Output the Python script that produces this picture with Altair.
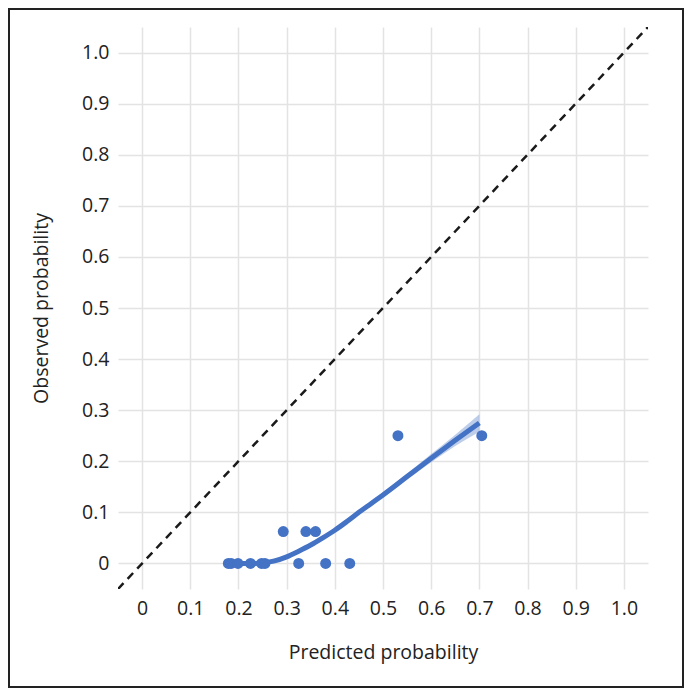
import altair as alt
import pandas as pd

# observed points
pred_x = [0.179, 0.185, 0.199, 0.225, 0.248, 0.255, 0.325, 0.381, 0.431,
          0.293, 0.340, 0.360, 0.531, 0.705]
obs_y = [0, 0, 0, 0, 0, 0, 0, 0, 0,
         0.0625, 0.0625, 0.0625, 0.25, 0.25]

# smoothed calibration curve
curve_x = [0.179, 0.20, 0.225, 0.25, 0.275, 0.30, 0.325, 0.35, 0.375, 0.40,
           0.425, 0.45, 0.475, 0.50, 0.55, 0.60, 0.65, 0.70]
curve_y = [0.000, 0.000, 0.000, 0.001, 0.005, 0.013, 0.024, 0.036, 0.050, 0.065,
           0.082, 0.100, 0.117, 0.134, 0.170, 0.206, 0.241, 0.275]
curve_se = [0.004, 0.004, 0.004, 0.004, 0.004, 0.004, 0.004, 0.004, 0.004, 0.004,
            0.004, 0.004, 0.005, 0.005, 0.006, 0.008, 0.011, 0.017]

# reference diagonal
diag = [-0.05, 1.05]

ticks = [0, 0.1, 0.2, 0.3, 0.4, 0.5, 0.6, 0.7, 0.8, 0.9, 1.0]

BLUE = "#4472C4"
FONT = "Open Sans"

pts = pd.DataFrame({"x": pred_x, "y": obs_y})
cur = pd.DataFrame({
    "x": curve_x,
    "y": curve_y,
    "lo": [a - b for a, b in zip(curve_y, curve_se)],
    "hi": [a + b for a, b in zip(curve_y, curve_se)],
})
dg = pd.DataFrame({"x": diag, "y": diag})

label_expr = "datum.value == 0 ? '0' : format(datum.value, '.1f')"

xs = alt.Scale(domain=[-0.05, 1.05], nice=False, zero=False)
ys = alt.Scale(domain=[-0.05, 1.05], nice=False, zero=False)

xax = alt.Axis(values=ticks, labelExpr=label_expr, title="Predicted probability",
               grid=True, ticks=False, domain=False, labelPadding=10,
               titlePadding=26)
yax = alt.Axis(values=ticks, labelExpr=label_expr, title="Observed probability",
               grid=True, ticks=False, domain=False, labelPadding=9,
               titlePadding=30)

line_diag = alt.Chart(dg).mark_line(
    color="#1a1a1a", strokeDash=[8, 6], strokeWidth=2.5, clip=True
).encode(
    x=alt.X("x:Q", scale=xs, axis=xax),
    y=alt.Y("y:Q", scale=ys, axis=yax),
)

band = alt.Chart(cur).mark_area(color=BLUE, opacity=0.35, interpolate="monotone").encode(
    x=alt.X("x:Q", scale=xs),
    y=alt.Y("lo:Q", scale=ys),
    y2="hi:Q",
)

curve = alt.Chart(cur).mark_line(color=BLUE, strokeWidth=5, interpolate="monotone").encode(
    x=alt.X("x:Q", scale=xs),
    y=alt.Y("y:Q", scale=ys),
)

points = alt.Chart(pts).mark_circle(color=BLUE, size=120, opacity=1).encode(
    x=alt.X("x:Q", scale=xs),
    y=alt.Y("y:Q", scale=ys),
)

border = alt.Chart(pd.DataFrame({"k": [0]})).mark_rect(
    fill="transparent", stroke="#222222", strokeWidth=2
).encode(
    x=alt.value(-109), x2=alt.value(565),
    y=alt.value(-18), y2=alt.value(660),
)

chart = alt.layer(line_diag, band, curve, points, border).properties(
    width=530, height=562, padding=0
).configure_view(stroke=None).configure_axis(
    gridColor="#e3e3e3", gridWidth=1.5,
    labelFont=FONT, labelFontSize=19.5, labelColor="#222222",
    titleFont=FONT, titleFontSize=19.5, titleColor="#222222", titleFontWeight="normal",
)

chart.save("out.html", embed_options={"renderer": "svg", "actions": False})
